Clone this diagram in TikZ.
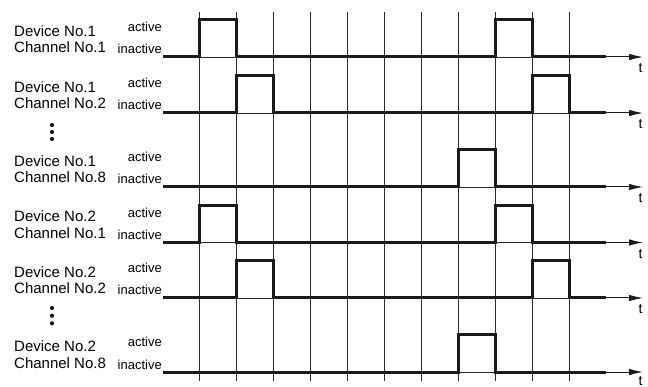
\documentclass[tikz,border=0pt]{standalone}
\usepackage{fontspec}
\setmainfont{Liberation Sans}
\usetikzlibrary{positioning,arrows.meta}
\definecolor{Ink}{HTML}{1A1A1A}
\definecolor{GridInk}{HTML}{2B2B2B}
\tikzset{
  devlabel/.style={anchor=base west, inner sep=0pt, font=\fontsize{15}{18}\selectfont},
  level/.style={anchor=base east, inner sep=0pt, font=\fontsize{13}{15}\selectfont},
  tick/.style={anchor=base, inner sep=0pt, font=\fontsize{14}{16}\selectfont},
  signal/.style={Ink, line width=3pt, line join=miter},
  gridline/.style={GridInk, line width=0.8pt},
  timeaxis/.style={-{Latex[length=14pt,width=6.5pt]}, Ink, line width=1pt},
  dot/.style={circle, fill=Ink, inner sep=0pt, minimum size=4.2pt},
}

\begin{document}
\begin{tikzpicture}[x=1pt, y=-1pt]
  \useasboundingbox (0,0) rectangle (648,387);
  \foreach \k in {0,...,10}
    \draw[gridline] (199+37*\k,12) -- (199+37*\k,381);
  \foreach \y/\dev/\ch/\pulses [count=\r] in
      {57/1/1/{0,8}, 113/1/2/{1,9}, 187/1/8/{7},
       242.5/2/1/{0,8}, 298/2/2/{1,9}, 372/2/8/{7}} {
    \pgfmathsetmacro\ty{min(\y+16,385.5)}
    \coordinate (s\r) at (163,\y);
    \coordinate (m\r) at (606,\y);
    \coordinate (e\r) at (643,\y);
    \node[devlabel] (dev\r) at (14,\y-20.5) {Device No.\dev};
    \node[devlabel] (chan\r) at (14,\y-4) {Channel No.\ch};
    \node[level] (act\r) at (162,\y-25) {active};
    \node[level] (inact\r) at (162,\y-3) {inactive};
    \node[tick] (t\r) at (640.5,\ty) {t};
    \draw[signal] (s\r) -- (m\r);
    \draw[timeaxis] (m\r) -- (e\r);
    \foreach \p in \pulses {
      \fill[white] (200.5+37*\p,\y-1.6) rectangle (234.5+37*\p,\y+1.6);
      \draw[gridline] (199+37*\p,\y) -- (236+37*\p,\y);
      \draw[signal] (199+37*\p,\y+1.5) |- (236+37*\p,\y-37) -- (236+37*\p,\y+1.5);
    }
  }
  \foreach \y in {125,132,139,308,315.7,323.3}
    \node[dot] at (52,\y) {};
\end{tikzpicture}
\end{document}
